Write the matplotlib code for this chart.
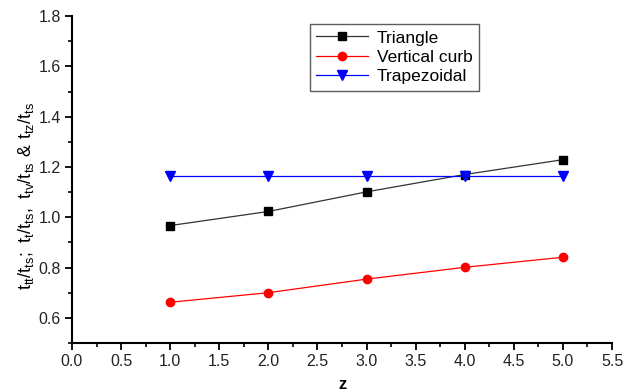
import numpy as np
import matplotlib.pyplot as plt
from matplotlib.ticker import MultipleLocator

plt.rcParams['font.family'] = ['Liberation Sans', 'DejaVu Sans']

z = [1.0, 2.0, 3.0, 4.0, 5.0]
triangle = [0.967, 1.023, 1.101, 1.170, 1.229]
vertical_curb = [0.662, 0.700, 0.754, 0.801, 0.841]
trapezoidal = [1.165, 1.165, 1.165, 1.165, 1.165]

fig = plt.figure(figsize=(6.28, 3.91), dpi=100)
ax = fig.add_axes([0.1146, 0.1228, 0.86, 0.836])

ax.plot(z, triangle, color='#333333', lw=0.9, marker='s', ms=5.5,
        mfc='black', mec='black', label='Triangle')
ax.plot(z, vertical_curb, color='red', lw=0.9, marker='o', ms=6,
        mfc='red', mec='red', label='Vertical curb')
ax.plot(z, trapezoidal, color='blue', lw=0.9, marker='v', ms=7,
        mfc='blue', mec='blue', label='Trapezoidal')

ax.set_xlim(0, 5.5)
ax.set_ylim(0.5, 1.8)
ax.xaxis.set_major_locator(MultipleLocator(0.5))
ax.xaxis.set_minor_locator(MultipleLocator(0.25))
ax.yaxis.set_minor_locator(MultipleLocator(0.1))
ax.set_yticks(np.arange(0.6, 1.81, 0.2))
ax.xaxis.set_major_formatter(plt.FormatStrFormatter('%.1f'))
ax.yaxis.set_major_formatter(plt.FormatStrFormatter('%.1f'))

for s in ['top', 'right']:
    ax.spines[s].set_visible(False)
for s in ['left', 'bottom']:
    ax.spines[s].set_linewidth(1.5)
ax.tick_params(which='major', direction='out', length=5, width=1.3,
               labelsize=11.5, colors='black', labelcolor='#222222', pad=3)
ax.tick_params(which='minor', direction='out', length=3, width=1.2)

ax.set_xlabel('z', fontsize=12, fontweight='bold', labelpad=6)
ax.set_ylabel(r'$\mathregular{t_{tt}/t_{ts};\ t_t/t_{ts},\ t_{tv}/t_{ts}\ &\ t_{tz}/t_{ts}}$',
              fontsize=13, labelpad=2, y=0.45)

leg = ax.legend(loc='upper left', bbox_to_anchor=(0.441, 0.975), fontsize=12.5,
                frameon=True, fancybox=False, edgecolor='#333333',
                borderpad=0.35, labelspacing=0.25, handlelength=3.0,
                handletextpad=0.5, borderaxespad=0)
leg.get_frame().set_linewidth(1.0)

fig.savefig('out.png', dpi=100)
